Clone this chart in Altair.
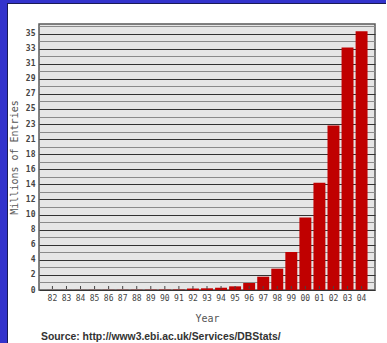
import altair as alt
import pandas as pd

years = ["82", "83", "84", "85", "86", "87", "88", "89", "90", "91", "92", "93",
         "94", "95", "96", "97", "98", "99", "00", "01", "02", "03", "04"]
entries = [0.005, 0.008, 0.01, 0.015, 0.02, 0.025, 0.03, 0.04, 0.05, 0.06, 0.2, 0.23,
           0.31, 0.5, 0.95, 1.81, 2.9, 5.18, 9.85, 14.6, 22.4, 33.0, 35.2]
source_text = ["Source: http://www3.ebi.ac.uk/Services/DBStats/"]

step = 2.053
tick_vals = [round(k * step / 2, 4) for k in range(36)]

W, H = 336, 266
PL, PT, PR, PB = 39, 24, 12, 53

df = pd.DataFrame({"year": years, "entries": entries})
one = pd.DataFrame({"t": source_text})

mono = "DejaVu Sans Mono"

xs = alt.Scale(domain=years, paddingInner=0.15, paddingOuter=0.53)
ys = alt.Scale(domain=[0, 36.2], nice=False, zero=True)

bars = alt.Chart(df).mark_bar(color="#c00000").encode(
    x=alt.X("year:N", sort=years, scale=xs,
            axis=alt.Axis(title="Year", labelAngle=0, ticks=False, domain=False,
                          labelPadding=4, titlePadding=11, labelFont=mono,
                          labelFontSize=8, labelColor="#444", titleFont=mono,
                          titleFontSize=10, titleColor="#555", titleFontWeight="normal")),
    y=alt.Y("entries:Q", scale=ys,
            axis=alt.Axis(title="Millions of Entries", values=tick_vals,
                          labelExpr="round(datum.value / 1.0265) % 2 == 0 ? format(round(datum.value), 'd') : ''",
                          ticks=False, domain=False, labelPadding=4, titlePadding=6,
                          labelFont=mono, labelFontSize=8, labelColor="#444",
                          labelFontWeight="bold",
                          titleFont=mono, titleFontSize=10, titleColor="#555",
                          titleFontWeight="normal",
                          gridColor=alt.condition("round(datum.value / 1.0265) % 2 == 0",
                                                  alt.value("#333333"), alt.value("#8a8a8a")),
                          gridWidth=1, gridOpacity=1)),
)

ticks = alt.Chart(df).mark_rule(color="#444", strokeWidth=1).encode(
    x=alt.X("year:N", sort=years, scale=xs),
    y=alt.value(H - 4),
    y2=alt.value(H - 1),
)

source = alt.Chart(one).mark_text(
    align="left", baseline="middle", font="Liberation Sans",
    fontWeight="bold", fontSize=10.4, color="#333",
).encode(text="t:N", x=alt.value(2), y=alt.value(313))

left_strip = alt.Chart(one).mark_rect(color="#3333cc").encode(
    x=alt.value(-PL), x2=alt.value(-PL + 7),
    y=alt.value(-PT), y2=alt.value(H + PB),
)
top_strip = alt.Chart(one).mark_rect(color="#3333cc").encode(
    x=alt.value(-PL), x2=alt.value(W + PR - 1),
    y=alt.value(-PT), y2=alt.value(-PT + 3),
)
left_edge = alt.Chart(one).mark_rule(color="#1a1a55", strokeWidth=1).encode(
    x=alt.value(-PL + 7.5), y=alt.value(-PT + 3), y2=alt.value(H + PB),
)
top_edge = alt.Chart(one).mark_rule(color="#1a1a55", strokeWidth=1).encode(
    x=alt.value(-PL + 7), x2=alt.value(W + PR - 1), y=alt.value(-PT + 3.5),
)

chart = alt.layer(bars, ticks, source, left_strip, top_strip, left_edge, top_edge).properties(
    width=W, height=H,
    autosize=alt.AutoSizeParams(type="none"),
    padding={"left": PL, "top": PT, "right": PR, "bottom": PB},
    background="white",
).configure_view(
    fill="#e6e6e6", stroke="#5a5a5a", strokeWidth=1.5,
)

chart.save("out.html", embed_options={"renderer": "svg", "actions": False})
